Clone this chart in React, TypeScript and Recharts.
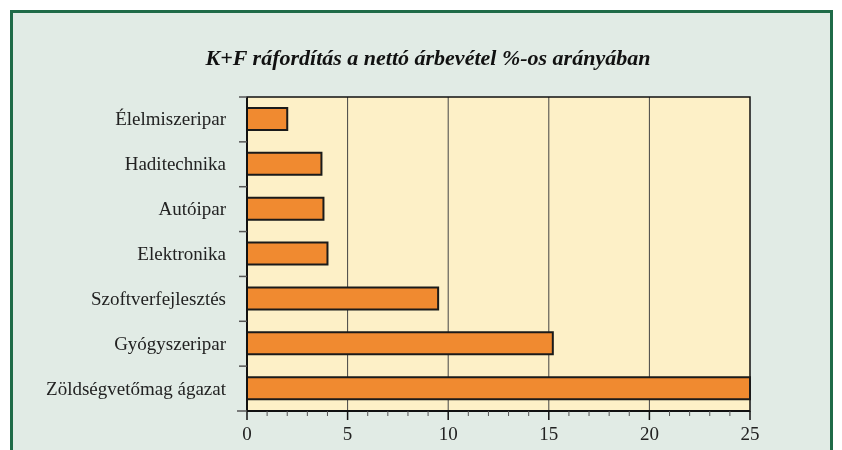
import {
  BarChart,
  Bar,
  XAxis,
  YAxis,
  CartesianGrid,
  ReferenceArea,
} from "recharts";

// categories, top to bottom
const sectors = [
  "Élelmiszeripar",
  "Haditechnika",
  "Autóipar",
  "Elektronika",
  "Szoftverfejlesztés",
  "Gyógyszeripar",
  "Zöldségvetőmag ágazat",
];
// K+F share of net revenue, %
const shares = [2.0, 3.7, 3.8, 4.0, 9.5, 15.2, 25];
const xTicks = Array.from({ length: 26 }, (_, i) => i);
const gridValues = [5, 10, 15, 20];

const data = sectors.map((name, i) => ({ name, value: shares[i] }));

const W = 842;
const H = 450;
const PLOT_LEFT = 247;
const PLOT_TOP = 97;
const PLOT_BOTTOM = 411;
const BAND = (PLOT_BOTTOM - PLOT_TOP) / sectors.length;
const FONT = "'Liberation Serif', 'DejaVu Serif', serif";

function CategoryTick(props: any) {
  const { y, payload, index } = props;
  return (
    <g>
      <line
        x1={PLOT_LEFT - 8}
        x2={PLOT_LEFT}
        y1={y - BAND / 2}
        y2={y - BAND / 2}
        stroke="#555"
        strokeWidth={1.5}
      />
      {index === sectors.length - 1 && (
        <line x1={PLOT_LEFT - 10} x2={PLOT_LEFT} y1={y + BAND / 2} y2={y + BAND / 2} stroke="#555" strokeWidth={1.5} />
      )}
      <text
        x={PLOT_LEFT - 21}
        y={y}
        dy={6}
        textAnchor="end"
        fontFamily={FONT}
        fontSize={19}
        fill="#222"
      >
        {payload.value}
      </text>
    </g>
  );
}

function ValueTick(props: any) {
  const { x, payload } = props;
  const major = payload.value % 5 === 0;
  return (
    <g>
      <line
        x1={x}
        x2={x}
        y1={PLOT_BOTTOM}
        y2={PLOT_BOTTOM + (major ? 9 : 5)}
        stroke={major ? "#111" : "#555"}
        strokeWidth={major ? 1.5 : 1}
      />
      {major && (
        <text
          x={x}
          y={PLOT_BOTTOM + 29}
          textAnchor="middle"
          fontFamily={FONT}
          fontSize={19}
          fill="#222"
        >
          {payload.value}
        </text>
      )}
    </g>
  );
}

// grid lines only at the major values, placed through the axis scale
const gridX = ({ xAxis }: any) =>
  gridValues.map((v) => {
    const s: any = xAxis.scale;
    return typeof s === "function" ? s(v) : s.map(v);
  });

export default function App() {
  return (
    <div style={{ position: "fixed", left: 0, top: 0, width: W, height: H, overflow: "hidden" }}>
      <div
        style={{
          position: "absolute",
          left: 10,
          top: 10,
          width: 817,
          height: 460,
          border: "3px solid #1f6b48",
          background: "#e1ebe5",
        }}
      />
      <div
        style={{
          position: "absolute",
          left: 7,
          top: 45,
          width: W,
          textAlign: "center",
          fontFamily: FONT,
          fontStyle: "italic",
          fontWeight: "bold",
          fontSize: 22,
          color: "#111",
        }}
      >
        K+F ráfordítás a nettó árbevétel %-os arányában
      </div>
      <div style={{ position: "absolute", left: 0, top: 0 }}>
        <BarChart
          width={W}
          height={H}
          data={data}
          layout="vertical"
          margin={{ top: PLOT_TOP, right: 92, bottom: 0, left: 0 }}
        >
          <CartesianGrid
            horizontal={false}
            verticalCoordinatesGenerator={gridX}
            fill="#fdf0c7"
            fillOpacity={1}
            stroke="#444"
            strokeWidth={1}
          />
          <XAxis
            type="number"
            domain={[0, 25]}
            ticks={xTicks}
            interval={0}
            height={H - PLOT_BOTTOM}
            axisLine={{ stroke: "#111", strokeWidth: 2 }}
            tickLine={false}
            tick={<ValueTick />}
          />
          <YAxis
            type="category"
            dataKey="name"
            width={PLOT_LEFT}
            axisLine={{ stroke: "#111", strokeWidth: 2 }}
            tickLine={false}
            interval={0}
            tick={<CategoryTick />}
          />
          <ReferenceArea
            x1={0}
            x2={25}
            fill="none"
            stroke="#111"
            strokeWidth={1.5}
          />
          <Bar
            dataKey="value"
            fill="#f08a30"
            stroke="#1a1a1a"
            strokeWidth={2}
            barSize={22}
            isAnimationActive={false}
          />
        </BarChart>
      </div>
    </div>
  );
}
